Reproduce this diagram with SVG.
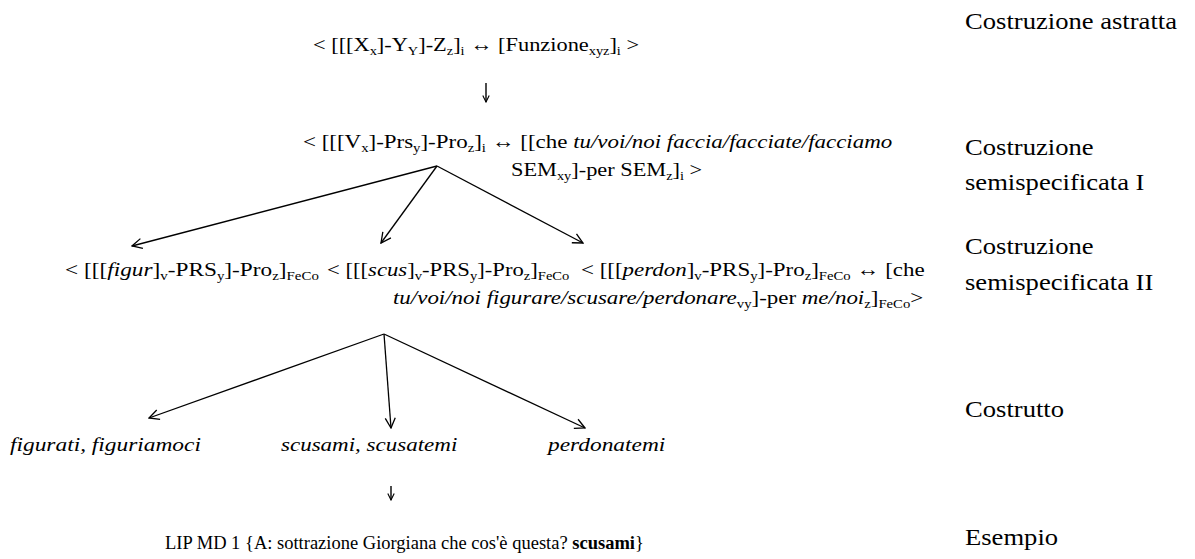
<svg xmlns="http://www.w3.org/2000/svg" width="1195" height="559" viewBox="0 0 1195 559">
  <defs>
    <marker id="open" viewBox="0 0 12 12" refX="11" refY="6" markerWidth="12" markerHeight="12" markerUnits="userSpaceOnUse" orient="auto">
      <path d="M1,1 L11,6 L1,11" fill="none" stroke="#000" stroke-width="1.3"/>
    </marker>
    <marker id="small" viewBox="0 0 10 10" refX="9" refY="5" markerWidth="8" markerHeight="8" markerUnits="userSpaceOnUse" orient="auto">
      <path d="M1,1 L9,5 L1,9" fill="none" stroke="#000" stroke-width="1.4"/>
    </marker>
  </defs>
  <style>
    text { font-family: "Liberation Serif", "Times New Roman", serif; fill: #000; }
    .f { font-size: 19.5px; }
    .ex { font-size: 18.5px; }
    .lab { font-size: 23px; }
    .s { font-size: 12.5px; }
    .i { font-style: italic; }
    .b { font-weight: bold; }
    .conn line { stroke: #000; stroke-width: 1.3; fill: none; marker-end: url(#open); }
    .conn line.down { stroke-width: 1.4; marker-end: url(#small); }
  </style>
  <rect width="1195" height="559" fill="#fff"/>

  <!-- level labels -->
  <g id="labels">
    <text class="lab" transform="translate(965,29) scale(1.157,1)">Costruzione astratta</text>
    <text class="lab" transform="translate(965,155) scale(1.157,1)">Costruzione</text>
    <text class="lab" transform="translate(965,190) scale(1.157,1)">semispecificata I</text>
    <text class="lab" transform="translate(965,254) scale(1.157,1)">Costruzione</text>
    <text class="lab" transform="translate(965,290) scale(1.157,1)">semispecificata II</text>
    <text class="lab" transform="translate(965,417) scale(1.157,1)">Costrutto</text>
    <text class="lab" transform="translate(965,545) scale(1.157,1)">Esempio</text>
  </g>

  <!-- abstract construction -->
  <g id="abstract">
    <text class="f" transform="translate(313,51) scale(1.147,1)">&lt; [[[X<tspan class="s" dy="4">x</tspan><tspan dy="-4">]-Y</tspan><tspan class="s" dy="4">Y</tspan><tspan dy="-4">]-Z</tspan><tspan class="s" dy="4">z</tspan><tspan dy="-4">]</tspan><tspan class="s" dy="4">i</tspan><tspan dy="-4"> ↔ [Funzione</tspan><tspan class="s" dy="4">xyz</tspan><tspan dy="-4">]</tspan><tspan class="s" dy="4">i</tspan><tspan dy="-4"> &gt;</tspan></text>
  </g>

  <!-- semi-specified construction I -->
  <g id="semi1">
    <text class="f" transform="translate(303,148) scale(1.177,1)">&lt; [[[V<tspan class="s" dy="4">x</tspan><tspan dy="-4">]-Prs</tspan><tspan class="s" dy="4">y</tspan><tspan dy="-4">]-Pro</tspan><tspan class="s" dy="4">z</tspan><tspan dy="-4">]</tspan><tspan class="s" dy="4">i</tspan><tspan dy="-4"> ↔ [[che </tspan><tspan class="i">tu/voi/noi faccia/facciate/facciamo</tspan></text>
    <text class="f" transform="translate(511,176) scale(1.146,1)">SEM<tspan class="s" dy="4">xy</tspan><tspan dy="-4">]-per SEM</tspan><tspan class="s" dy="4">z</tspan><tspan dy="-4">]</tspan><tspan class="s" dy="4">i</tspan><tspan dy="-4"> &gt;</tspan></text>
  </g>

  <!-- semi-specified construction II -->
  <g id="semi2">
    <text class="f" transform="translate(65,276) scale(1.194,1)">&lt; [[[<tspan class="i">figur</tspan>]<tspan class="s" dy="4">v</tspan><tspan dy="-4">-PRS</tspan><tspan class="s" dy="4">y</tspan><tspan dy="-4">]-Pro</tspan><tspan class="s" dy="4">z</tspan><tspan dy="-4">]</tspan><tspan class="s" dy="4">FeCo</tspan></text>
    <text class="f" transform="translate(327,276) scale(1.164,1)">&lt; [[[<tspan class="i">scus</tspan>]<tspan class="s" dy="4">v</tspan><tspan dy="-4">-PRS</tspan><tspan class="s" dy="4">y</tspan><tspan dy="-4">]-Pro</tspan><tspan class="s" dy="4">z</tspan><tspan dy="-4">]</tspan><tspan class="s" dy="4">FeCo</tspan></text>
    <text class="f" transform="translate(581,276) scale(1.177,1)">&lt; [[[<tspan class="i">perdon</tspan>]<tspan class="s" dy="4">v</tspan><tspan dy="-4">-PRS</tspan><tspan class="s" dy="4">y</tspan><tspan dy="-4">]-Pro</tspan><tspan class="s" dy="4">z</tspan><tspan dy="-4">]</tspan><tspan class="s" dy="4">FeCo</tspan><tspan dy="-4"> ↔ [che</tspan></text>
    <text class="f" transform="translate(393,304) scale(1.177,1)"><tspan class="i">tu/voi/noi figurare/scusare/perdonare</tspan><tspan class="s" dy="4">vy</tspan><tspan dy="-4">]-per </tspan><tspan class="i">me/noi</tspan><tspan class="s" dy="4">z</tspan><tspan dy="-4">]</tspan><tspan class="s" dy="4">FeCo</tspan><tspan dy="-4">&gt;</tspan></text>
  </g>

  <!-- constructs -->
  <g id="constructs">
    <text class="f i" transform="translate(10,451) scale(1.2,1)">figurati, figuriamoci</text>
    <text class="f i" transform="translate(281,451) scale(1.18,1)">scusami, scusatemi</text>
    <text class="f i" transform="translate(548,451) scale(1.2,1)">perdonatemi</text>
  </g>

  <!-- example -->
  <g id="example">
    <text class="ex" x="165" y="549">LIP MD 1 {A: sottrazione Giorgiana che cos'è questa? <tspan class="b">scusami</tspan>}</text>
  </g>

  <!-- connectors -->
  <g id="connectors" class="conn">
    <line class="down" x1="486" y1="83" x2="486" y2="102"/>
    <line x1="437" y1="166" x2="132" y2="246"/>
    <line x1="437" y1="166" x2="381" y2="243"/>
    <line x1="437" y1="166" x2="583" y2="243"/>
    <line x1="384" y1="334" x2="149" y2="418"/>
    <line x1="384" y1="334" x2="391" y2="428"/>
    <line x1="384" y1="334" x2="585" y2="428"/>
    <line class="down" x1="391" y1="486" x2="391" y2="500"/>
  </g>
</svg>
